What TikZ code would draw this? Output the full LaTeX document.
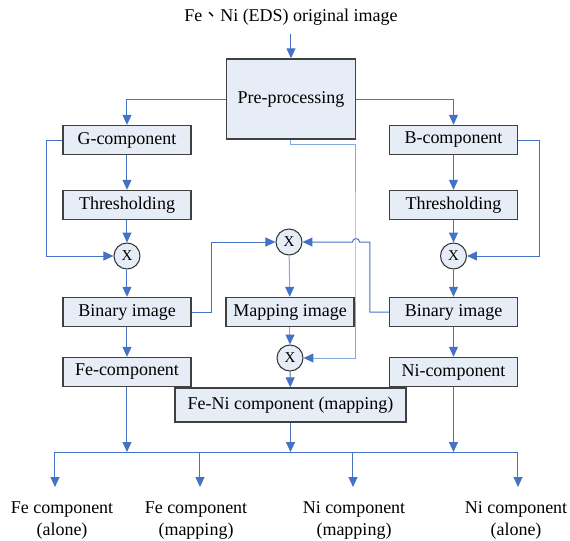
\documentclass[tikz,border=0pt]{standalone}
\usepackage{fontspec}
\setmainfont{Liberation Serif}
\newfontfamily\cjkfont{Noto Sans CJK TC}
\usetikzlibrary{arrows.meta,positioning,calc}
\definecolor{LineBlue}{RGB}{68,114,196}
\definecolor{LightBlue}{RGB}{132,170,220}
\definecolor{BoxFill}{RGB}{231,237,246}
\tikzset{
  stepbox/.style={draw=black!75,line width=0.7pt,fill=BoxFill,
    minimum width=64pt,minimum height=14.5pt,inner sep=0pt,align=center},
  mulnode/.style={draw=black!80,line width=0.5pt,circle,fill=BoxFill,
    minimum size=13pt,inner sep=0pt,font=\fontsize{7.5}{9}\selectfont},
  outlabel/.style={anchor=north,inner xsep=0pt,inner ysep=7pt,align=center},
  flowline/.style={line width=0.5pt,draw=LineBlue},
  flowarrow/.style={flowline,-{Triangle[length=5pt,width=4.5pt,color=LineBlue]}},
  lightarrow/.style={flowarrow,draw=LightBlue},
}

\begin{document}
\begin{tikzpicture}[x=0.5pt,y=-0.5pt,font=\fontsize{9}{11}\selectfont]
    \useasboundingbox (0,0) rectangle (570,541);
    % source and pre-processing
    \node[inner sep=4pt] (title) at (291,17) {Fe{\cjkfont 、}Ni (EDS) original image};
    \node[stepbox,minimum width=64.5pt,minimum height=40pt] (pre) at (291,99) {Pre-processing};
    % left branch (G)
    \node[stepbox] (gcomp) at (127,140) {G-component};
    \node[stepbox] (gthr)  at (127,205) {Thresholding};
    \node[mulnode] (gx)    at (127,256) {X};
    \node[stepbox] (gbin)  at (127,312) {Binary image};
    \node[stepbox] (fe)    at (127,372) {Fe-component};
    % right branch (B)
    \node[stepbox] (bcomp) at (453.5,140) {B-component};
    \node[stepbox] (bthr)  at (453.5,205) {Thresholding};
    \node[mulnode] (bx)    at (453.5,256) {X};
    \node[stepbox] (bbin)  at (453.5,312) {Binary image};
    \node[stepbox] (ni)    at (453.5,372) {Ni-component};
    % middle (mapping)
    \node[mulnode] (mx)  at (289,242) {X};
    \node[stepbox] (map) at (290,312) {Mapping image};
    \node[mulnode] (lx)  at (290,358) {X};
    \node[stepbox,minimum width=115.5pt,minimum height=17pt] (feni) at (290.5,405) {Fe-Ni component (mapping)};
    % outputs
    \coordinate (bus) at (0,452);
    \coordinate (b1) at (55,452);
    \coordinate (b2) at (200,452);
    \coordinate (b3) at (353,452);
    \coordinate (b4) at (518,452);
    \node[outlabel] (out1) at (62,487)  {Fe component\\(alone)};
    \node[outlabel] (out2) at (196,487) {Fe component\\(mapping)};
    \node[outlabel] (out3) at (354,487) {Ni component\\(mapping)};
    \node[outlabel] (out4) at (516,487) {Ni component\\(alone)};
    \coordinate (hop) at (356,242);

    \draw[flowarrow] (title) -- (pre);
    \draw[flowarrow] (pre.west) -| (gcomp.north);
    \draw[flowarrow] (pre.east) -| (bcomp.north);
    \draw[flowarrow] (gcomp) -- (gthr);
    \draw[flowarrow] (gthr) -- (gx);
    \draw[flowarrow] (gx) -- (gbin);
    \draw[flowarrow] (gbin) -- (fe);
    \draw[flowarrow] (bcomp) -- (bthr);
    \draw[flowarrow] (bthr) -- (bx);
    \draw[flowarrow] (bx) -- (bbin);
    \draw[flowarrow] (bbin) -- (ni);
    \draw[flowarrow] (gcomp.west) -- ++(-16,0) |- (gx.west);
    \draw[flowarrow] (bcomp.east) -- ++(21,0) |- (bx.east);
    \draw[flowarrow] (gbin.east) -- ++(20,0) |- (mx.west);
    \draw[flowarrow] (bbin.west) -- ++(-19,0) |- ([xshift=1.75pt]hop)
        arc[start angle=0,end angle=180,radius=1.75pt] -- (mx.east);
    \draw[lightarrow] (pre.south) -- ++(0,5) -| (hop) |- (lx.east);
    \draw[lightarrow] (mx) -- (map);
    \draw[lightarrow] (map) -- (lx);
    \draw[flowarrow] (lx) -- (feni);
    % collecting bus
    \draw[flowarrow] (fe.south) -- (fe.south |- bus);
    \draw[flowarrow] (feni.south) -- (feni.south |- bus);
    \draw[flowarrow] (ni.south) -- (ni.south |- bus);
    \draw[flowline] (b1) -- (b4);
    \draw[flowarrow] (b1) -- (b1 |- out1.north);
    \draw[flowarrow] (b2) -- (b2 |- out2.north);
    \draw[flowarrow] (b3) -- (b3 |- out3.north);
    \draw[flowarrow] (b4) -- (b4 |- out4.north);
\end{tikzpicture}
\end{document}
